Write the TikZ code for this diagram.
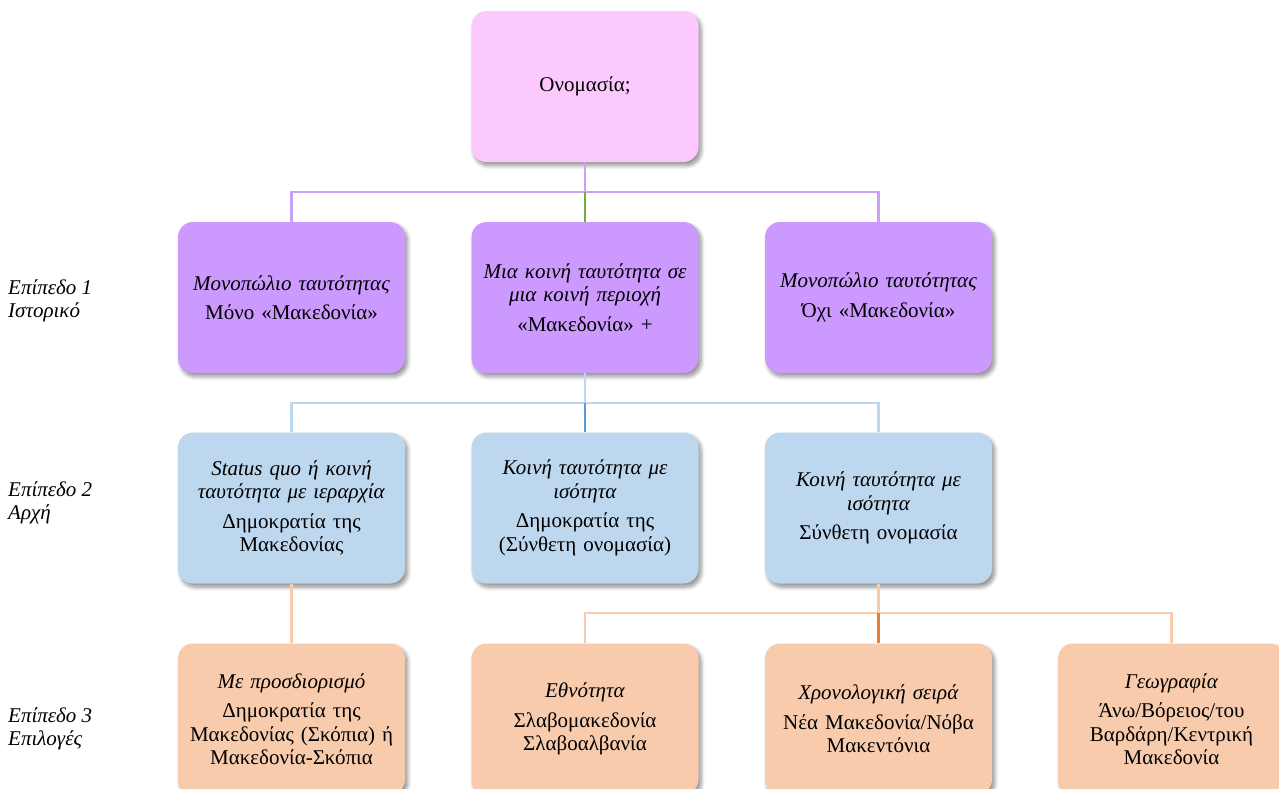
\documentclass[tikz,border=0pt]{standalone}
\usepackage{fontspec}
\setmainfont{Liberation Serif}
\usetikzlibrary{shadows.blur}
\definecolor{toppink}{HTML}{FBC9FD}
\definecolor{lvlone}{HTML}{CC99FF}
\definecolor{lvltwo}{HTML}{BDD7EE}
\definecolor{lvlthree}{HTML}{F8CBAD}
\definecolor{purpline}{HTML}{C9A2F5}
\definecolor{greenline}{HTML}{70AD47}
\definecolor{blueline}{HTML}{BDD7EE}
\definecolor{bluedark}{HTML}{5B9BD5}
\definecolor{orangeline}{HTML}{F8CBAD}
\definecolor{orangedark}{HTML}{ED7D31}
\begin{document}
\begin{tikzpicture}[x=1pt,y=-1pt,
  box/.style={rounded corners=15pt, minimum width=227pt, minimum height=151pt,
    text width=219pt, align=center, inner sep=0pt, draw=none,
    font=\fontsize{21}{23.5}\selectfont,
    blur shadow={shadow xshift=2.5pt, shadow yshift=-3.5pt, shadow blur steps=8, shadow blur radius=4pt, shadow opacity=45}},
  pinkbox/.style={box, fill=toppink},
  onebox/.style={box, fill=lvlone},
  twobox/.style={box, fill=lvltwo},
  threebox/.style={box, fill=lvlthree},
  conn/.style={line width=2.5pt},
  lvllabel/.style={anchor=west, align=left, font=\fontsize{21}{22.5}\selectfont\itshape, inner sep=0pt}
]
\useasboundingbox (0,0) rectangle (1279,789);

\node[pinkbox] (top) at (585,86.5) {Ονομασία;};

\node[onebox] (a1) at (291.5,297.5) {\textit{Μονοπώλιο ταυτότητας}\\[6pt] Μόνο «Μακεδονία»};
\node[onebox] (a2) at (585,297.5) {\textit{Μια κοινή ταυτότητα σε}\\ \textit{μια κοινή περιοχή}\\[6pt] «Μακεδονία» +};
\node[onebox] (a3) at (878.5,297.5) {\textit{Μονοπώλιο ταυτότητας}\\[6pt] Όχι «Μακεδονία»};

\node[twobox] (b1) at (291.5,508) {\textit{Status quo ή κοινή}\\ \textit{ταυτότητα με ιεραρχία}\\[6pt] Δημοκρατία της\\ Μακεδονίας};
\node[twobox] (b2) at (585,508) {\textit{Κοινή ταυτότητα με}\\ \textit{ισότητα}\\[6pt] Δημοκρατία της\\ (Σύνθετη ονομασία)};
\node[twobox] (b3) at (878.5,508) {\textit{Κοινή ταυτότητα με}\\ \textit{ισότητα}\\[6pt] Σύνθετη ονομασία};

\node[threebox] (c1) at (291.5,719) {\textit{Με προσδιορισμό}\\[6pt] Δημοκρατία της\\ Μακεδονίας (Σκόπια) ή\\ Μακεδονία-Σκόπια};
\node[threebox] (c2) at (585,719) {\textit{Εθνότητα}\\[6pt] Σλαβομακεδονία\\ Σλαβοαλβανία};
\node[threebox] (c3) at (878.5,719) {\textit{Χρονολογική σειρά}\\[6pt] Νέα Μακεδονία/Νόβα\\ Μακεντόνια};
\node[threebox] (c4) at (1171.5,719) {\textit{Γεωγραφία}\\[6pt] Άνω/Βόρειος/του\\ Βαρδάρη/Κεντρική\\ Μακεδονία};

\coordinate (j1) at (585,192);
\coordinate (j2) at (585,403);
\coordinate (j3) at (878.5,613);

\draw[conn, purpline] (top.south) -- (j1);
\draw[conn, purpline] (j1) -| (a1.north);
\draw[conn, purpline] (j1) -| (a3.north);
\draw[conn, greenline] (j1) -- (a2.north);

\draw[conn, blueline] (a2.south) -- (j2);
\draw[conn, blueline] (j2) -| (b1.north);
\draw[conn, blueline] (j2) -| (b3.north);
\draw[conn, bluedark] (j2) -- (b2.north);

\draw[conn, orangeline] (b1.south) -- (c1.north);
\draw[conn, orangeline] (b3.south) -- (j3);
\draw[conn, orangeline] (j3) -| (c2.north);
\draw[conn, orangeline] (j3) -| (c4.north);
\draw[conn, orangedark] (j3) -- (c3.north);

\node[lvllabel] (l1) at (8,301) {Επίπεδο 1\\ Ιστορικό};
\node[lvllabel] (l2) at (8,503) {Επίπεδο 2\\ Αρχή};
\node[lvllabel] (l3) at (8,729) {Επίπεδο 3\\ Επιλογές};
\end{tikzpicture}
\end{document}
